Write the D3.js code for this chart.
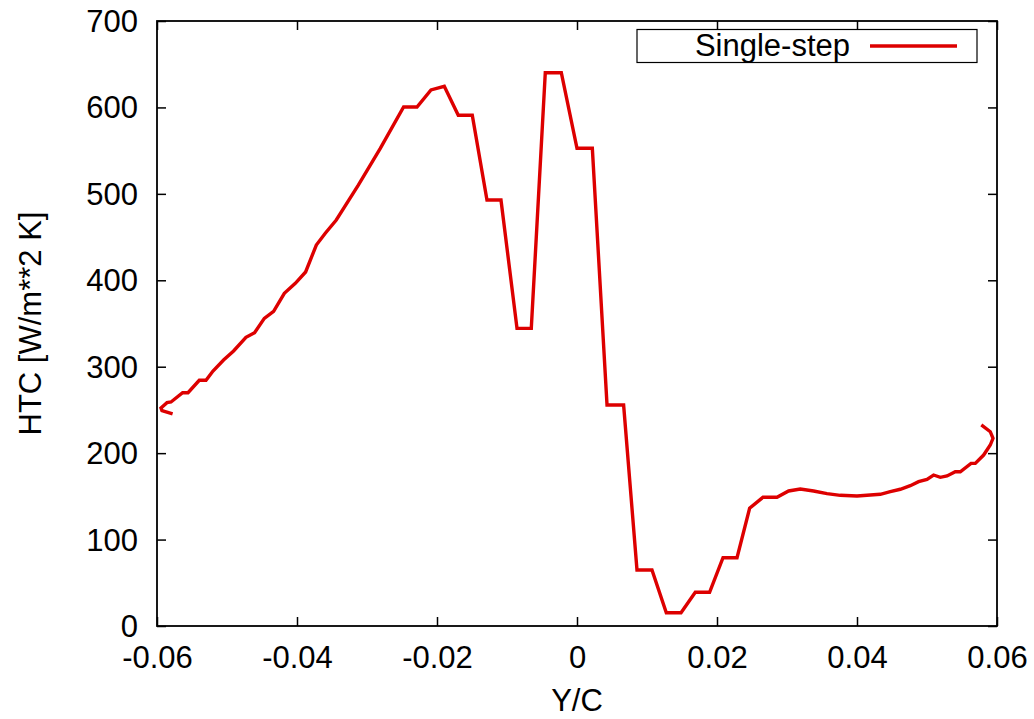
<!DOCTYPE html>
<html><head><meta charset="utf-8">
<script src="https://cdn.jsdelivr.net/npm/d3@7"></script>
<style>body{margin:0;background:#fff}svg text{font-family:"Liberation Sans",Arial,sans-serif;fill:#000}</style>
</head><body><svg id="c" width="1034" height="719"></svg>
<script>
const seriesName = "Single-step";
const xValues = [-0.05777,-0.05929,-0.05943,-0.05857,-0.05800,-0.05634,-0.05557,-0.05396,-0.05300,-0.05200,-0.05049,-0.04906,-0.04729,-0.04606,-0.04467,-0.04334,-0.04181,-0.04024,-0.03877,-0.03724,-0.03596,-0.03439,-0.03124,-0.02810,-0.02477,-0.02286,-0.02086,-0.01896,-0.01696,-0.01496,-0.01286,-0.01086,-0.00857,-0.00653,-0.00453,-0.00224,0.00000,0.00219,0.00429,0.00666,0.00857,0.01071,0.01276,0.01486,0.01690,0.01894,0.02086,0.02286,0.02466,0.02657,0.02857,0.03023,0.03190,0.03380,0.03571,0.03761,0.04000,0.04333,0.04476,0.04619,0.04761,0.04880,0.05000,0.05094,0.05190,0.05286,0.05404,0.05476,0.05629,0.05690,0.05809,0.05904,0.05943,0.05904,0.05776];
const htcValues = [245.3,249.1,252.2,258.4,259.2,269.9,269.9,284.3,284.3,295.0,307.8,318.2,334.0,339.4,356.0,364.1,384.9,396.5,409.6,440.8,454.4,469.8,510.2,552.7,600.5,600.5,620.2,624.4,590.9,590.9,492.9,492.9,344.4,344.4,640.2,640.2,552.7,552.7,255.7,255.7,64.8,64.8,15.4,15.4,39.0,39.0,79.0,79.0,136.2,148.9,148.9,156.2,158.5,156.2,153.1,151.2,150.4,152.4,155.4,158.2,162.3,167.0,169.7,174.7,172.0,173.6,178.5,178.5,188.2,188.2,197.8,209.4,217.2,224.8,232.6];
const xTicks = [-0.06,-0.04,-0.02,0,0.02,0.04,0.06];
const yTicks = [0,100,200,300,400,500,600,700];
const xLabel = "Y/C";
const yLabel = "HTC [W/m**2 K]";

const svg = d3.select("#c");
const L=157, R=997, T=21, B=626;
const x = d3.scaleLinear().domain([-0.06,0.06]).range([L,R]);
const y = d3.scaleLinear().domain([0,700]).range([B,T]);
const fs = 31, tick = 9;

const fmtX = d => d===0 ? "0" : d3.format(".2f")(d).replace("−","-");
const g = svg.append("g");
g.append("g").attr("transform",`translate(0,${B})`)
  .call(d3.axisBottom(x).tickValues(xTicks).tickSizeInner(-tick).tickSizeOuter(0).tickFormat(fmtX))
  .call(a=>{a.select(".domain").remove();a.selectAll("line").attr("stroke","#000").attr("stroke-width",1.5);
    a.selectAll("text").attr("font-size",fs).attr("dy",null).attr("y",42).attr("fill","#000");});
g.append("g").attr("transform",`translate(0,${T})`)
  .call(d3.axisTop(x).tickValues(xTicks).tickSizeInner(-tick).tickSizeOuter(0).tickFormat(""))
  .call(a=>{a.select(".domain").remove();a.selectAll("line").attr("stroke","#000").attr("stroke-width",1.5);});
g.append("g").attr("transform",`translate(${L},0)`)
  .call(d3.axisLeft(y).tickValues(yTicks).tickSizeInner(-tick).tickSizeOuter(0).tickFormat(d3.format("d")))
  .call(a=>{a.select(".domain").remove();a.selectAll("line").attr("stroke","#000").attr("stroke-width",1.5);
    a.selectAll("text").attr("font-size",fs).attr("x",-19).attr("dy","0.34em").attr("fill","#000");});
g.append("g").attr("transform",`translate(${R},0)`)
  .call(d3.axisRight(y).tickValues(yTicks).tickSizeInner(-tick).tickSizeOuter(0).tickFormat(""))
  .call(a=>{a.select(".domain").remove();a.selectAll("line").attr("stroke","#000").attr("stroke-width",1.5);});
svg.selectAll(".tick text").attr("font-family",'"Liberation Sans",Arial,sans-serif');

svg.append("rect").attr("x",L).attr("y",T).attr("width",R-L).attr("height",B-T)
  .attr("fill","none").attr("stroke","#000").attr("stroke-width",1.8);

svg.append("text").attr("x",(L+R)/2).attr("y",711).attr("text-anchor","middle").attr("font-size",fs).text(xLabel);
svg.append("text").attr("transform",`translate(41,${(T+B)/2}) rotate(-90)`).attr("text-anchor","middle").attr("font-size",fs).text(yLabel);

const data = xValues.map((v,i)=>[v,htcValues[i]]);
svg.append("path").datum(data)
  .attr("d", d3.line().x(d=>x(d[0])).y(d=>y(d[1])))
  .attr("fill","none").attr("stroke","#dd0000").attr("stroke-width",3.4).attr("stroke-linejoin","miter");

const lg = svg.append("g");
lg.append("rect").attr("x",637).attr("y",29.5).attr("width",340).attr("height",33)
  .attr("fill","#fff").attr("stroke","#000").attr("stroke-width",1.2);
lg.append("text").attr("x",850).attr("y",56).attr("text-anchor","end").attr("font-size",fs).text(seriesName);
lg.append("line").attr("x1",870).attr("x2",957).attr("y1",46).attr("y2",46).attr("stroke","#dd0000").attr("stroke-width",3.4);
</script></body></html>
